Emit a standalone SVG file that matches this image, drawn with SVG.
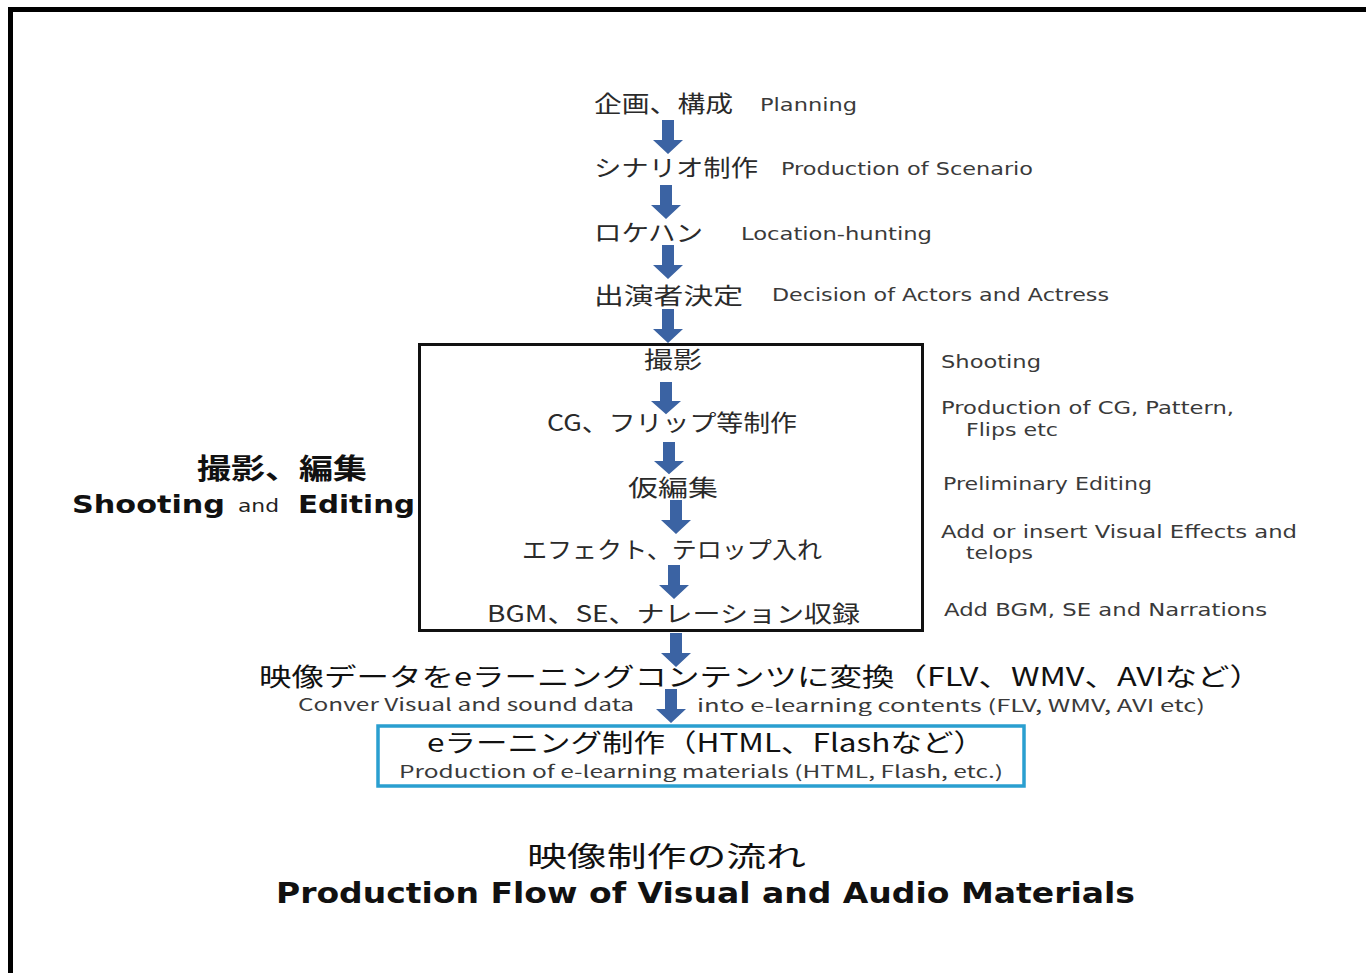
<svg xmlns="http://www.w3.org/2000/svg" width="1366" height="973" viewBox="0 0 1366 973">
<style>
.jp{font-family:"Noto Sans CJK JP","Noto Sans",sans-serif;fill:#2a2a2a;font-size:23px}
.en{font-family:"DejaVu Sans","Noto Sans",sans-serif;fill:#3a3a3a;font-size:18px}
.cond{font-family:"Noto Sans CJK JP","Liberation Sans",sans-serif;fill:#3a3a3a;font-size:17px}
.big{font-family:"Noto Sans CJK JP","Noto Sans",sans-serif;fill:#111;font-size:28px}
.mid{font-family:"Noto Sans CJK JP","Noto Sans",sans-serif;fill:#111;font-size:25px}
.bold{font-family:"DejaVu Sans","Noto Sans",sans-serif;font-weight:bold;fill:#111}
.arrow{fill:#3b63a3}
</style>
<defs>
<path id="arr" d="M-6,0 H6 V20 H15 L0,34 L-15,20 H-6 Z"/>
</defs>
<rect width="1366" height="973" fill="#fff"/>
<path d="M10.5,973 V9.5 H1366" fill="none" stroke="#000" stroke-width="5"/>

<g id="connectors" class="arrow">
<use href="#arr" transform="translate(668,120)"/>
<use href="#arr" transform="translate(666,185)"/>
<use href="#arr" transform="translate(668,245)"/>
<use href="#arr" transform="translate(668,309)"/>
<use href="#arr" transform="translate(666,382) scale(1,0.95)"/>
<use href="#arr" transform="translate(669,442) scale(1,0.95)"/>
<use href="#arr" transform="translate(676,500)"/>
<use href="#arr" transform="translate(674,565)"/>
<use href="#arr" transform="translate(676,633)"/>
<use href="#arr" transform="translate(671,689)"/>
</g>

<g id="n-planning">
<text class="jp" x="594" y="112" textLength="139" lengthAdjust="spacingAndGlyphs">企画、構成</text>
<text class="en" x="760" y="111" textLength="97" lengthAdjust="spacingAndGlyphs">Planning</text>
</g>
<g id="n-scenario">
<text class="jp" x="594" y="176" textLength="164" lengthAdjust="spacingAndGlyphs">シナリオ制作</text>
<text class="en" x="781" y="175" textLength="252" lengthAdjust="spacingAndGlyphs">Production of Scenario</text>
</g>
<g id="n-location">
<text class="jp" x="594" y="241" textLength="109" lengthAdjust="spacingAndGlyphs">ロケハン</text>
<text class="en" x="741" y="240" textLength="191" lengthAdjust="spacingAndGlyphs">Location-hunting</text>
</g>
<g id="n-actors">
<text class="jp" x="594" y="304" textLength="149" lengthAdjust="spacingAndGlyphs">出演者決定</text>
<text class="en" x="772" y="301" textLength="337" lengthAdjust="spacingAndGlyphs">Decision of Actors and Actress</text>
</g>

<g id="n-shooting-editing">
<rect x="419.5" y="344.5" width="503" height="286" fill="none" stroke="#111" stroke-width="3"/>
<text class="jp" x="644" y="368" textLength="58" lengthAdjust="spacingAndGlyphs">撮影</text>
<text class="jp" x="547" y="431" textLength="250" lengthAdjust="spacingAndGlyphs">CG、フリップ等制作</text>
<text class="jp" x="628" y="496" textLength="90" lengthAdjust="spacingAndGlyphs">仮編集</text>
<text class="jp" x="522" y="558" textLength="300" lengthAdjust="spacingAndGlyphs">エフェクト、テロップ入れ</text>
<text class="jp" x="487" y="622" textLength="373" lengthAdjust="spacingAndGlyphs">BGM、SE、ナレーション収録</text>
</g>

<g id="n-left-label">
<text class="big" x="197" y="479" textLength="170" lengthAdjust="spacingAndGlyphs" style="font-weight:bold">撮影、編集</text>
<text class="bold" x="72" y="513" font-size="25" textLength="153" lengthAdjust="spacingAndGlyphs">Shooting</text>
<text class="en" x="238" y="512" font-size="16" textLength="41" lengthAdjust="spacingAndGlyphs" style="fill:#222">and</text>
<text class="bold" x="298" y="513" font-size="25" textLength="117" lengthAdjust="spacingAndGlyphs">Editing</text>
</g>

<g id="n-right-labels">
<text class="en" x="941" y="368" textLength="100" lengthAdjust="spacingAndGlyphs">Shooting</text>
<text class="en" x="941" y="414" textLength="293" lengthAdjust="spacingAndGlyphs">Production of CG, Pattern,</text>
<text class="en" x="966" y="436" textLength="92" lengthAdjust="spacingAndGlyphs">Flips etc</text>
<text class="en" x="943" y="490" textLength="209" lengthAdjust="spacingAndGlyphs">Preliminary Editing</text>
<text class="en" x="941" y="538" textLength="356" lengthAdjust="spacingAndGlyphs">Add or insert  Visual Effects and</text>
<text class="en" x="966" y="559" textLength="67" lengthAdjust="spacingAndGlyphs">telops</text>
<text class="en" x="944" y="616" textLength="323" lengthAdjust="spacingAndGlyphs">Add BGM, SE and Narrations</text>
</g>

<g id="n-convert">
<text class="mid" x="259" y="686" font-size="24" textLength="1003" lengthAdjust="spacingAndGlyphs">映像データをeラーニングコンテンツに変換（FLV、WMV、AVIなど）</text>
<text class="cond" x="298" y="711" textLength="336" lengthAdjust="spacingAndGlyphs">Conver Visual and sound data</text>
<text class="cond" x="697" y="712" textLength="508" lengthAdjust="spacingAndGlyphs">into e-learning contents (FLV, WMV, AVI etc)</text>
</g>

<g id="n-elearning">
<rect x="378" y="726" width="646" height="60" fill="none" stroke="#2a9fd0" stroke-width="3.5"/>
<text class="mid" x="427" y="752" textLength="558" lengthAdjust="spacingAndGlyphs">eラーニング制作（HTML、Flashなど）</text>
<text class="cond" x="399" y="778" textLength="604" lengthAdjust="spacingAndGlyphs">Production of e-learning materials (HTML, Flash, etc.)</text>
</g>

<g id="n-title">
<text class="big" x="527" y="867" textLength="279" lengthAdjust="spacingAndGlyphs">映像制作の流れ</text>
<text class="bold" x="276" y="903" font-size="28" textLength="859" lengthAdjust="spacingAndGlyphs">Production Flow of Visual and Audio Materials</text>
</g>
</svg>
